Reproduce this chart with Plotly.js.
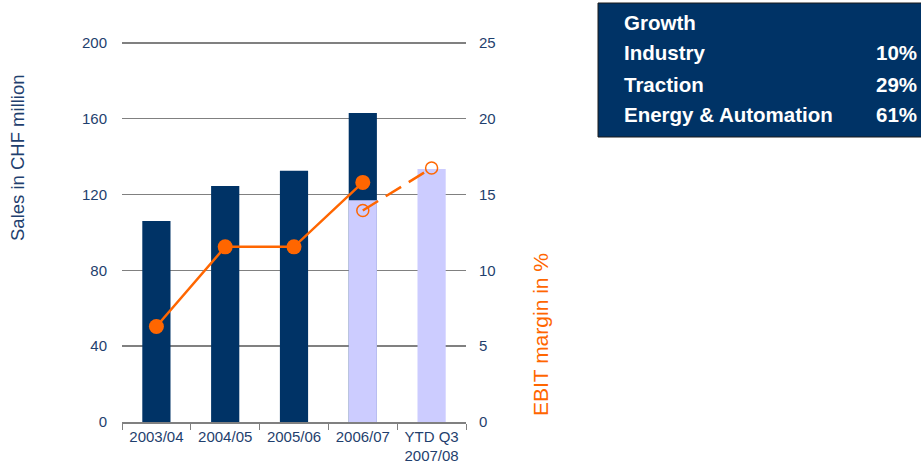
<!DOCTYPE html>
<html><head><meta charset="utf-8">
<script src="https://cdn.plot.ly/plotly-3.0.1.min.js"></script>
<style>html,body{margin:0;padding:0;background:#fff}#chart{width:921px;height:468px}</style>
</head><body><div id="chart"></div>
<script>
var categories = ["2003/04", "2004/05", "2005/06", "2006/07", "YTD Q3<br>2007/08"];
var salesFull = [106, 124.5, 132.5, 163, null];
var salesYTD = [null, null, null, 117, 133.5];
var ebitFull = [6.3, 11.55, 11.55, 15.8, null];
var ebitYTD = [null, null, null, 13.95, 16.75];
var growthTitle = "Growth";
var growthLabels = ["Industry", "Traction", "Energy & Automation"];
var growthValues = ["10%", "29%", "61%"];

var navy = "#003366", light = "#ccccff", orange = "#ff6600", txt = "#1f3f6e";
var font = "Liberation Sans, Arial, sans-serif";

var traces = [
  {type: "bar", x: categories, y: salesFull, marker: {color: navy}, width: 0.41, hoverinfo: "y"},
  {type: "bar", x: categories, y: salesYTD, marker: {color: light}, width: 0.41, hoverinfo: "y"},
  {type: "scatter", mode: "lines+markers", x: categories, y: ebitFull, yaxis: "y2",
   line: {color: orange, width: 2.5}, marker: {color: orange, size: 15, symbol: "circle"}},
  {type: "scatter", mode: "lines+markers", x: categories, y: ebitYTD, yaxis: "y2",
   line: {color: orange, width: 2.5, dash: "18px,9px"},
   marker: {color: orange, size: 12, symbol: "circle-open", line: {width: 1.5, color: orange}}}
];

// plot area: x 122..466, y 41..422 (381 px)
function py(pix) { return (422 - pix) / 381; }
function px(pix) { return (pix - 122) / 344; }

var ann = [
  {xref: "paper", yref: "paper", x: px(17), y: py(158), text: "Sales in CHF million", textangle: -90,
   showarrow: false, font: {family: font, size: 18.5, color: txt}, xanchor: "center", yanchor: "middle"},
  {xref: "paper", yref: "paper", x: px(540), y: py(335), text: "EBIT margin in %", textangle: -90,
   showarrow: false, font: {family: font, size: 21, color: orange}, xanchor: "center", yanchor: "middle"},
  {xref: "paper", yref: "paper", x: px(622), y: py(22.5), text: "<b>" + growthTitle + "</b>", showarrow: false,
   xanchor: "left", yanchor: "middle", font: {family: font, size: 20.5, color: "#ffffff"}}
];
var rowY = [52.5, 84.5, 114.5];
for (var i = 0; i < growthLabels.length; i++) {
  ann.push({xref: "paper", yref: "paper", x: px(622), y: py(rowY[i]), text: "<b>" + growthLabels[i] + "</b>",
    showarrow: false, xanchor: "left", yanchor: "middle", font: {family: font, size: 20.5, color: "#ffffff"}});
  ann.push({xref: "paper", yref: "paper", x: px(919), y: py(rowY[i]), text: "<b>" + growthValues[i] + "</b>",
    showarrow: false, xanchor: "right", yanchor: "middle", font: {family: font, size: 20.5, color: "#ffffff"}});
}

var layout = {
  width: 921, height: 468,
  margin: {l: 122, r: 455, t: 41, b: 46},
  paper_bgcolor: "#fff", plot_bgcolor: "#fff",
  barmode: "overlay", showlegend: false,
  font: {family: font, size: 15, color: txt},
  xaxis: {type: "category", showline: true, linecolor: "#808080", linewidth: 1.5,
    ticks: "outside", tickson: "boundaries", ticklen: 6, tickcolor: "#808080",
    tickfont: {family: font, size: 15, color: txt}, showgrid: false, zeroline: false, fixedrange: true},
  yaxis: {range: [0, 201], tickvals: [0, 40, 80, 120, 160, 200], showgrid: true, gridcolor: "#808080", gridwidth: 1.5,
    ticks: "outside", ticklen: 11, tickcolor: "rgba(0,0,0,0)", zeroline: false, showline: false,
    tickfont: {family: font, size: 15, color: txt}},
  yaxis2: {range: [0, 25.125], tickvals: [0, 5, 10, 15, 20, 25], overlaying: "y", side: "right", showgrid: false,
    ticks: "outside", ticklen: 9, tickcolor: "rgba(0,0,0,0)", zeroline: false, showline: false,
    tickfont: {family: font, size: 15, color: txt}},
  shapes: [{type: "rect", xref: "paper", yref: "paper", x0: px(598), x1: px(925), y0: py(137), y1: py(3),
    fillcolor: navy, line: {color: "#1a1a1a", width: 1}, layer: "below"}],
  annotations: ann
};
Plotly.newPlot("chart", traces, layout, {displayModeBar: false, staticPlot: true});
</script></body></html>
